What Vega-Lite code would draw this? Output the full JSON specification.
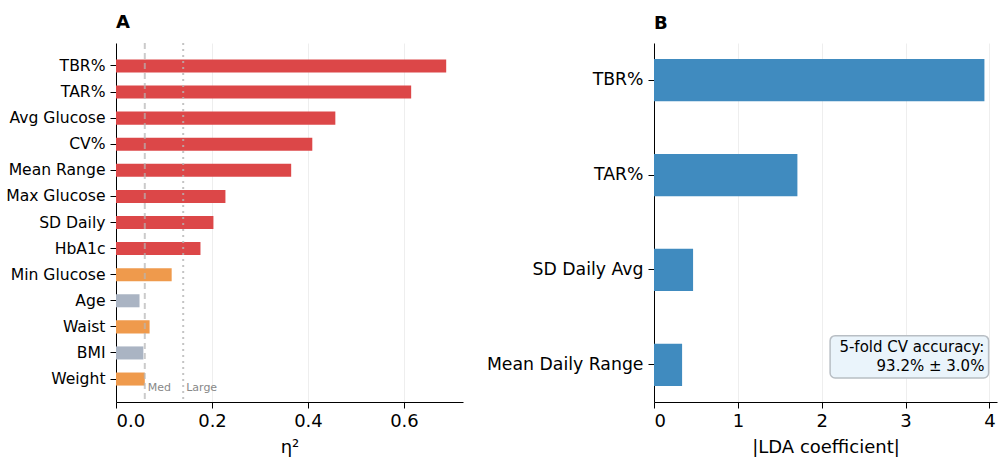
{
  "$schema": "https://vega.github.io/schema/vega-lite/v6.json",
  "background": "#ffffff",
  "padding": {"left": 5, "top": 14, "right": 2, "bottom": 4},
  "config": {
    "font": "DejaVu Sans",
    "view": {"stroke": null},
    "axis": {
      "domainColor": "#000000",
      "tickColor": "#000000",
      "labelColor": "#000000",
      "titleColor": "#000000",
      "titleFontWeight": "normal",
      "gridColor": "#eeeeee"
    },
    "title": {"anchor": "start", "frame": "group", "fontSize": 18, "fontWeight": "bold", "offset": 10}
  },
  "spacing": 23,
  "hconcat": [
    {
      "title": "A",
      "width": 347,
      "height": 359,
      "data": {
        "values": [
          {"feature": "TBR%", "eta2": 0.688, "effect": "large"},
          {"feature": "TAR%", "eta2": 0.615, "effect": "large"},
          {"feature": "Avg Glucose", "eta2": 0.457, "effect": "large"},
          {"feature": "CV%", "eta2": 0.409, "effect": "large"},
          {"feature": "Mean Range", "eta2": 0.365, "effect": "large"},
          {"feature": "Max Glucose", "eta2": 0.228, "effect": "large"},
          {"feature": "SD Daily", "eta2": 0.203, "effect": "large"},
          {"feature": "HbA1c", "eta2": 0.176, "effect": "large"},
          {"feature": "Min Glucose", "eta2": 0.116, "effect": "medium"},
          {"feature": "Age", "eta2": 0.049, "effect": "small"},
          {"feature": "Waist", "eta2": 0.070, "effect": "medium"},
          {"feature": "BMI", "eta2": 0.057, "effect": "small"},
          {"feature": "Weight", "eta2": 0.060, "effect": "medium"}
        ]
      },
      "layer": [
        {
          "mark": {"type": "bar"},
          "encoding": {
            "y": {
              "field": "feature",
              "type": "nominal",
              "scale": {
                "domain": ["TBR%", "TAR%", "Avg Glucose", "CV%", "Mean Range", "Max Glucose", "SD Daily", "HbA1c", "Min Glucose", "Age", "Waist", "BMI", "Weight"],
                "paddingInner": 0.5,
                "paddingOuter": 0.63
              },
              "axis": {"title": null, "labelFontSize": 15.6, "tickSize": 6, "labelPadding": 5, "grid": false}
            },
            "x": {
              "field": "eta2",
              "type": "quantitative",
              "scale": {"domain": [0, 0.723], "nice": false},
              "axis": {
                "title": "η²",
                "values": [0, 0.2, 0.4, 0.6],
                "format": ".1f",
                "labelFontSize": 18,
                "titleFontSize": 18,
                "tickSize": 6,
                "labelPadding": 4,
                "titlePadding": 8,
                "grid": true
              }
            },
            "color": {
              "field": "effect",
              "type": "nominal",
              "scale": {"domain": ["large", "medium", "small"], "range": ["#dc4748", "#ef9a4c", "#aab4c3"]},
              "legend": null
            }
          }
        },
        {
          "data": {"values": [{"thr": 0.06}]},
          "mark": {"type": "rule", "color": "#b5b5b5", "strokeWidth": 2, "strokeDash": [6, 4], "opacity": 0.7},
          "encoding": {"x": {"field": "thr", "type": "quantitative"}}
        },
        {
          "data": {"values": [{"thr": 0.14}]},
          "mark": {"type": "rule", "color": "#b5b5b5", "strokeWidth": 2, "strokeDash": [2, 4], "opacity": 0.8},
          "encoding": {"x": {"field": "thr", "type": "quantitative"}}
        },
        {
          "data": {"values": [{"thr": 0.06, "label": "Med", "row": "Weight"}, {"thr": 0.14, "label": "Large", "row": "Weight"}]},
          "mark": {"type": "text", "align": "left", "baseline": "middle", "fontSize": 11, "color": "#888888", "dx": 3, "dy": 9},
          "encoding": {
            "x": {"field": "thr", "type": "quantitative"},
            "y": {"field": "row", "type": "nominal"},
            "text": {"field": "label"}
          }
        }
      ]
    },
    {
      "title": "B",
      "width": 343,
      "height": 359,
      "data": {
        "values": [
          {"feature": "TBR%", "coef": 3.94},
          {"feature": "TAR%", "coef": 1.71},
          {"feature": "SD Daily Avg", "coef": 0.466},
          {"feature": "Mean Daily Range", "coef": 0.335}
        ]
      },
      "layer": [
        {
          "mark": {"type": "bar", "color": "#408bbf"},
          "encoding": {
            "y": {
              "field": "feature",
              "type": "nominal",
              "scale": {
                "domain": ["TBR%", "TAR%", "SD Daily Avg", "Mean Daily Range"],
                "paddingInner": 0.555,
                "paddingOuter": 0.17
              },
              "axis": {"title": null, "labelFontSize": 17.3, "tickSize": 6, "labelPadding": 5, "grid": false}
            },
            "x": {
              "field": "coef",
              "type": "quantitative",
              "scale": {"domain": [0, 4.09], "nice": false},
              "axis": {
                "title": "|LDA coefficient|",
                "values": [0, 1, 2, 3, 4],
                "format": "d",
                "labelFontSize": 18,
                "titleFontSize": 18,
                "tickSize": 6,
                "labelPadding": 4,
                "titlePadding": 8,
                "grid": true
              }
            }
          }
        },
        {
          "data": {"values": [{"x1": 2.1, "x2": 3.99, "row": "Mean Daily Range"}]},
          "mark": {"type": "bar", "fill": "#eaf4fb", "stroke": "#b8bec4", "strokeWidth": 1.5, "cornerRadius": 5, "yOffset": -8},
          "encoding": {
            "x": {"field": "x1", "type": "quantitative"},
            "x2": {"field": "x2"},
            "y": {"field": "row", "type": "nominal"}
          }
        },
        {
          "data": {"values": [{"x": 3.94, "row": "Mean Daily Range"}]},
          "mark": {"type": "text", "align": "right", "baseline": "middle", "fontSize": 15, "color": "#000000", "lineHeight": 19, "dy": -18},
          "encoding": {
            "x": {"field": "x", "type": "quantitative"},
            "y": {"field": "row", "type": "nominal"},
            "text": {"value": ["5-fold CV accuracy:", "93.2% ± 3.0%"]}
          }
        }
      ]
    }
  ]
}
